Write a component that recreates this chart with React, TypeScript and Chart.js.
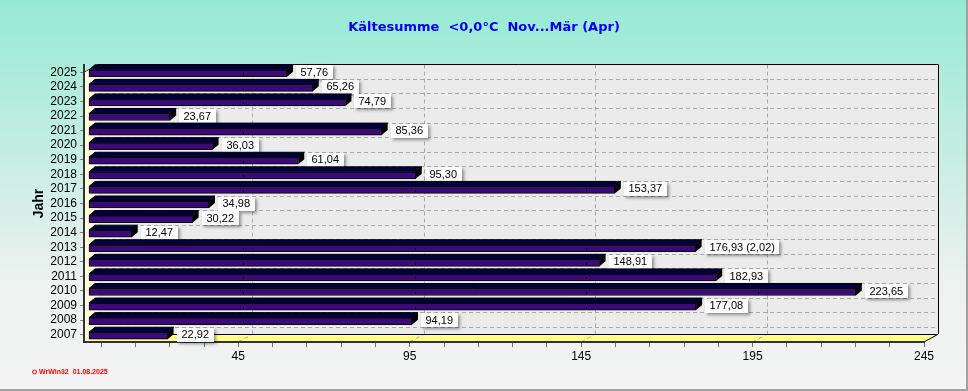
import React, { useEffect, useRef } from 'react';
import { Chart, registerables } from 'chart.js';

Chart.register(...registerables);

const years = ['2025', '2024', '2023', '2022', '2021', '2020', '2019', '2018', '2017', '2016', '2015', '2014', '2013', '2012', '2011', '2010', '2009', '2008', '2007'];
const values = [57.76, 65.26, 74.79, 23.67, 85.36, 36.03, 61.04, 95.3, 153.37, 34.98, 30.22, 12.47, 176.93, 148.91, 182.93, 223.65, 177.08, 94.19, 22.92];
const notes = ['', '', '', '', '', '', '', '', '', '', '', '', '(2,02)', '', '', '', '', '', ''];
const minorTicks = [5, 15, 25, 35, 45, 55, 65, 75, 85, 95, 105, 115, 125, 135, 145, 155, 165, 175, 185, 195, 205, 215, 225, 235, 245];
const labeledTicks = [45, 95, 145, 195, 245];
const gridValues = [45, 95, 145, 195];
const titleText = 'Kältesumme  <0,0°C  Nov...Mär (Apr)';
const axisTitle = 'Jahr';
const footerText = 'WrWin32  01.08.2025';

const DX = 14;
const DY = -8;
const BDX = 6;
const BDY = -5;
const SX = 5;
const SY = 1;

function poly(ctx: CanvasRenderingContext2D, pts: number[][]) {
  ctx.beginPath();
  ctx.moveTo(pts[0][0], pts[0][1]);
  for (let i = 1; i < pts.length; i++) ctx.lineTo(pts[i][0], pts[i][1]);
  ctx.closePath();
}

const threeD = {
  id: 'threeD',
  beforeDraw(chart: any) {
    const { ctx, width, height, chartArea: ca, scales } = chart;
    const x = scales.x;
    const y = scales.y;
    ctx.save();
    const g = ctx.createLinearGradient(0, 0, 0, height);
    g.addColorStop(0, '#95ead4');
    g.addColorStop(0.72, '#edf1ef');
    g.addColorStop(1, '#f3f3f3');
    ctx.fillStyle = g;
    ctx.fillRect(0, 0, width, height);
    ctx.strokeStyle = '#a0a0a0';
    ctx.lineWidth = 2;
    ctx.beginPath();
    ctx.moveTo(width - 1, 0);
    ctx.lineTo(width - 1, height - 1);
    ctx.lineTo(0, height - 1);
    ctx.stroke();

    const fl = ca.left, fr = ca.right, fb = ca.bottom;
    const ft = y.getPixelForValue(0);
    const bl = fl + DX, br = fr + DX, bt = Math.round(ft + DY) + 0.5, bb = fb + DY;

    ctx.fillStyle = '#ebebeb';
    ctx.fillRect(bl, bt, br - bl, bb - bt);
    ctx.fillStyle = '#fffcdc';
    poly(ctx, [[fl, ft], [bl, bt], [bl, bb], [fl, fb]]);
    ctx.fill();
    ctx.fillStyle = '#ffff8a';
    poly(ctx, [[fl, fb], [fr, fb], [br, bb], [bl, bb]]);
    ctx.fill();

    ctx.lineWidth = 1;
    ctx.strokeStyle = '#a9a9a9';
    ctx.setLineDash([4, 3]);
    for (let i = 1; i < years.length; i++) {
      const yy = Math.round(y.getPixelForValue(i) + DY) + 0.5;
      ctx.beginPath();
      ctx.moveTo(bl, yy);
      ctx.lineTo(br, yy);
      ctx.stroke();
    }
    gridValues.forEach((v) => {
      const fx = x.getPixelForValue(v);
      const xx = Math.round(fx + DX) + 0.5;
      ctx.beginPath();
      ctx.moveTo(xx, bt);
      ctx.lineTo(xx, bb);
      ctx.stroke();
      ctx.beginPath();
      ctx.moveTo(fx, fb);
      ctx.lineTo(xx, bb);
      ctx.stroke();
    });
    ctx.setLineDash([]);

    ctx.strokeStyle = '#000';
    ctx.lineWidth = 1;
    ctx.beginPath();
    ctx.moveTo(bl, bt);
    ctx.lineTo(br + 0.5, bt);
    ctx.lineTo(br + 0.5, bb);
    ctx.lineTo(fr, fb);
    ctx.stroke();
    ctx.beginPath();
    ctx.moveTo(bl, Math.round(bb) + 0.5);
    ctx.lineTo(br, Math.round(bb) + 0.5);
    ctx.stroke();
    ctx.strokeStyle = '#444';
    ctx.beginPath();
    ctx.moveTo(fl, ft);
    ctx.lineTo(bl, bt);
    ctx.stroke();
    ctx.restore();
  },
  beforeDatasetsDraw(chart: any) {
    chart.ctx.save();
    chart.ctx.translate(SX, SY);
  },
  afterDatasetsDraw(chart: any) {
    const { ctx, scales } = chart;
    ctx.restore();
    const x = scales.x;
    const meta = chart.getDatasetMeta(0);
    ctx.save();
    meta.data.forEach((el: any, i: number) => {
      const x0 = el.base + SX;
      const x1 = el.x + SX;
      const h = el.height;
      const top = el.y - h / 2 + SY;
      const bot = el.y + h / 2 + SY;
      ctx.fillStyle = '#00003c';
      ctx.strokeStyle = '#000';
      ctx.lineWidth = 1;
      poly(ctx, [[x0, top], [x1, top], [x1 + BDX, top + BDY], [x0 + BDX, top + BDY]]);
      ctx.fill();
      ctx.stroke();
      ctx.fillStyle = '#000';
      poly(ctx, [[x1, top], [x1 + BDX, top + BDY], [x1 + BDX, bot + BDY], [x1, bot]]);
      ctx.fill();

      gridValues.forEach((v) => {
        if (values[i] > v) {
          const dxp = Math.round(x.getPixelForValue(v) + SX);
          ctx.fillStyle = '#000';
          ctx.fillRect(dxp, Math.round(el.y) + 1, 1, 2);
        }
      });

      const txt = values[i].toFixed(2).replace('.', ',') + (notes[i] ? ' ' + notes[i] : '');
      ctx.font = '11px "Liberation Sans"';
      const tw = ctx.measureText(txt).width;
      const bx = Math.round(x1 + BDX + 3);
      const bw = Math.round(tw + 9);
      const by = Math.round(el.y - 7);
      ctx.save();
      ctx.shadowColor = 'rgba(0,0,0,0.4)';
      ctx.shadowBlur = 3;
      ctx.shadowOffsetX = 2;
      ctx.shadowOffsetY = 2;
      ctx.fillStyle = '#fcfcfc';
      ctx.fillRect(bx, by, bw, 14);
      ctx.restore();
      ctx.fillStyle = '#000';
      ctx.textBaseline = 'middle';
      ctx.textAlign = 'left';
      ctx.fillText(txt, bx + 4.5, el.y + 0.5);
    });
    ctx.restore();
  },
  afterDraw(chart: any) {
    const { ctx } = chart;
    ctx.save();
    ctx.strokeStyle = '#ff0000';
    ctx.fillStyle = '#ff0000';
    ctx.lineWidth = 1;
    ctx.beginPath();
    ctx.arc(34.5, 372, 2, 0, Math.PI * 2);
    ctx.stroke();
    ctx.font = 'bold 7px "Liberation Sans"';
    ctx.textBaseline = 'middle';
    ctx.textAlign = 'left';
    ctx.fillText(footerText, 39, 372);
    ctx.restore();
  },
};

export default function App() {
  const ref = useRef<HTMLCanvasElement | null>(null);
  useEffect(() => {
    document.body.style.margin = '0';
    const canvas = ref.current;
    if (!canvas) return;
    const chart = new Chart(canvas, {
      type: 'bar',
      data: {
        labels: years,
        datasets: [
          {
            data: values,
            backgroundColor: '#3c0a78',
            borderColor: '#000000',
            borderWidth: 1,
            borderSkipped: false,
            barThickness: 7,
            clip: false as any,
          },
        ],
      },
      options: {
        indexAxis: 'y',
        animation: false,
        responsive: false,
        devicePixelRatio: 1,
        layout: { padding: { left: 0, right: 0, top: 0, bottom: 0 } },
        plugins: {
          legend: { display: false },
          tooltip: { enabled: false },
          title: {
            display: true,
            text: titleText,
            color: '#0000f0',
            font: { family: 'DejaVu Sans', size: 13, weight: 'bold', lineHeight: 1.2 },
            padding: { top: 19.4, bottom: 30 },
          },
        },
        scales: {
          x: {
            type: 'linear',
            min: 0,
            max: 245,
            afterBuildTicks: (s: any) => {
              s.ticks = minorTicks.map((v) => ({ value: v }));
            },
            afterFit: (s: any) => {
              s.height = 49;
            },
            ticks: {
              autoSkip: false,
              maxRotation: 0,
              padding: 2,
              color: '#000',
              font: { family: 'Liberation Sans', size: 12 },
              callback: (v: any) => (labeledTicks.includes(Number(v)) ? String(v) : ''),
            },
            grid: { drawOnChartArea: false, drawTicks: true, tickLength: 5, color: '#707070' },
            border: { display: true, color: '#333333', width: 2 },
          },
          y: {
            type: 'category',
            offset: true,
            afterFit: (s: any) => {
              s.width = 84;
            },
            ticks: {
              autoSkip: false,
              padding: 3,
              color: '#000',
              font: { family: 'Liberation Sans', size: 12 },
            },
            grid: { drawOnChartArea: false, drawTicks: true, tickLength: 4, color: '#808080', offset: false },
            border: { display: true, color: '#333333', width: 2 },
            title: {
              display: true,
              text: axisTitle,
              color: '#000',
              font: { family: 'Liberation Sans', size: 14, weight: 'bold' },
              padding: { top: 30.6, bottom: 0 },
            },
          },
          yRight: {
            type: 'category',
            position: 'right',
            offset: true,
            display: true,
            afterFit: (s: any) => {
              s.width = 44;
            },
            ticks: { display: false },
            grid: { display: false, drawTicks: false },
            border: { display: false },
          },
        },
      } as any,
      plugins: [threeD],
    });
    return () => chart.destroy();
  }, []);
  return <canvas ref={ref} width={968} height={391} style={{ display: 'block' }} />;
}
